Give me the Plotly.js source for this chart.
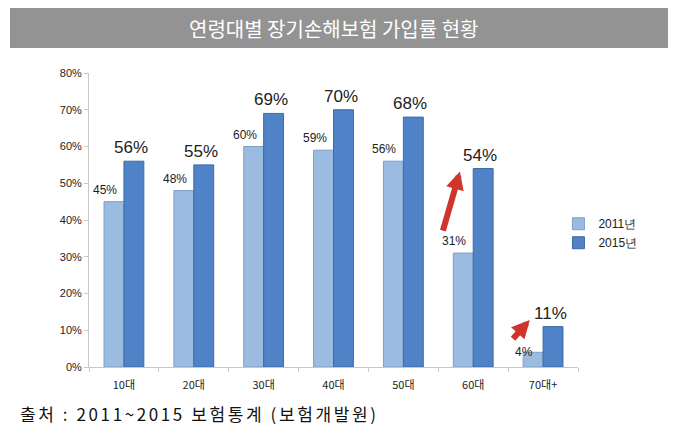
<!DOCTYPE html>
<html>
<head>
<meta charset="utf-8">
<script src="https://cdn.plot.ly/plotly-3.0.1.min.js"></script>
<style>
html,body{margin:0;padding:0;background:#fff;}
#chart{width:679px;height:437px;}
#chart .footer-note text{letter-spacing:2.6px;}
</style>
</head>
<body>
<div id="chart"></div>
<script>
const categories = ['10대', '20대', '30대', '40대', '50대', '60대', '70대+'];
const values2011 = [45, 48, 60, 59, 56, 31, 4];
const values2015 = [56, 55, 69, 70, 68, 54, 11];
const seriesNames = ['2011년', '2015년'];
const yTickVals = [0, 10, 20, 30, 40, 50, 60, 70, 80];
const yTickText = ['0%', '10%', '20%', '30%', '40%', '50%', '60%', '70%', '80%'];
const titleText = '연령대별 장기손해보험 가입률 현황';
const sourceText = '출처 : 2011~2015 보험통계 (보험개발원)';
// arrows: [fromX, fromY, toX, toY] in category-index / value units
const arrows = [[4.56, 36.7, 4.81, 53.2], [5.55, 7.3, 5.81, 12.8]];

const traces = [
  {type: 'bar', name: seriesNames[0], x: categories, y: values2011,
   marker: {color: '#9bbbe1', line: {color: '#7f9fc8', width: 1}}, hoverinfo: 'skip'},
  {type: 'bar', name: seriesNames[1], x: categories, y: values2015,
   marker: {color: '#4f82c6', line: {color: '#3f6aa6', width: 1}}, hoverinfo: 'skip'}
];

const annotations = [];
categories.forEach((c, i) => {
  annotations.push({x: c, y: values2011[i], text: values2011[i] + '%', showarrow: false,
    xshift: -19, yshift: i === 6 ? -9 : 3, yanchor: 'bottom',
    font: {family: 'Arial, Liberation Sans', size: 12, color: '#222'}});
  annotations.push({x: c, y: values2015[i], text: values2015[i] + '%', showarrow: false,
    xshift: 7, yshift: 2, yanchor: 'bottom',
    font: {family: 'Arial, Liberation Sans', size: 17, color: '#222'}});
});
arrows.forEach(a => {
  annotations.push({x: a[2], y: a[3], ax: a[0], ay: a[1], xref: 'x', yref: 'y', axref: 'x', ayref: 'y',
    showarrow: true, arrowhead: 2, arrowsize: 0.6, arrowwidth: 6, arrowcolor: '#d0342c', text: ''});
});
annotations.push({xref: 'paper', yref: 'paper', x: 0.5, y: 1.153, text: titleText, showarrow: false,
  xanchor: 'center', yanchor: 'middle',
  font: {family: 'Noto Sans CJK KR', size: 20, color: '#ffffff'}});
const footerIndex = annotations.length;
annotations.push({xref: 'paper', yref: 'paper', x: 0.225, y: -0.157, text: sourceText, showarrow: false,
  xanchor: 'center', yanchor: 'middle',
  font: {family: 'Noto Sans CJK KR', size: 17, color: '#111'}});

const layout = {
  width: 679, height: 437,
  margin: {l: 89, r: 101, t: 73, b: 70},
  paper_bgcolor: '#ffffff', plot_bgcolor: '#ffffff',
  barmode: 'group', bargap: 0.43, bargroupgap: 0,
  showlegend: true,
  legend: {x: 0.96, y: 0.455, xanchor: 'left', yanchor: 'middle',
    font: {family: 'Arial, Liberation Sans', size: 12, color: '#222'},
    itemwidth: 30, tracegroupgap: 0, bgcolor: 'rgba(0,0,0,0)'},
  xaxis: {type: 'category', showline: true, linecolor: '#c8c8c8', linewidth: 1,
    ticks: 'outside', tickson: 'boundaries', ticklen: 4, tickcolor: '#c8c8c8',
    ticklabelstandoff: 8,
    tickfont: {family: 'Noto Sans CJK KR', size: 11, color: '#222'},
    showgrid: false, zeroline: false, fixedrange: true},
  yaxis: {range: [0, 80], tickvals: yTickVals, ticktext: yTickText,
    showline: true, linecolor: '#c8c8c8', linewidth: 1,
    ticks: 'outside', ticklen: 4, tickcolor: '#c8c8c8',
    tickfont: {family: 'Arial, Liberation Sans', size: 11, color: '#222'},
    showgrid: false, zeroline: false, fixedrange: true},
  shapes: [{type: 'rect', xref: 'paper', yref: 'paper', x0: -0.1616, x1: 1.184, y0: 1.085, y1: 1.221,
    fillcolor: '#939393', line: {width: 0}, layer: 'below'}],
  annotations: annotations
};

Plotly.newPlot('chart', traces, layout, {displayModeBar: false, staticPlot: true}).then(gd => {
  const g = gd.querySelector('.annotation[data-index="' + footerIndex + '"]');
  if (g) g.classList.add('footer-note');
});
</script>
</body>
</html>
